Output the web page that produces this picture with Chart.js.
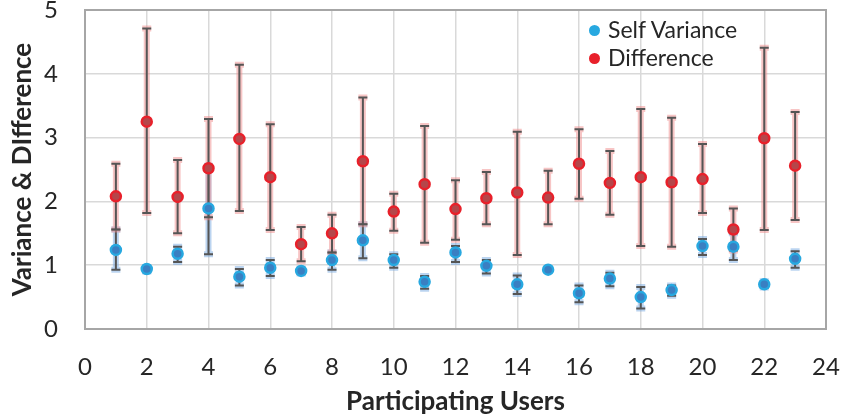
<!DOCTYPE html>
<html>
<head>
<meta charset="utf-8">
<script src="https://cdn.jsdelivr.net/npm/chart.js@4.4.0/dist/chart.umd.min.js"></script>
<style>
    body { margin: 0; background: #fff; }
    #wrap { position: relative; width: 845px; height: 419px; }
    #legend { position: absolute; left: 589px; top: 15px; font-family: Lato, sans-serif; font-size: 23px; color: #262626; }
    #legend div { height: 28px; line-height: 28px; white-space: nowrap; }
    #legend span { display: inline-block; width: 11px; height: 11px; border-radius: 50%; margin-right: 8px; vertical-align: 2px; }
</style>
</head>
<body>
<div id="wrap">
    <canvas id="chart" width="845" height="419"></canvas>
    <div id="legend"></div>
</div>
<script>
const users = [1, 2, 3, 4, 5, 6, 7, 8, 9, 10, 11, 12, 13, 14, 15, 16, 17, 18, 19, 20, 21, 22, 23];

const selfVar  = [1.24, 0.94, 1.18, 1.89, 0.82, 0.96, 0.91, 1.08, 1.39, 1.08, 0.74, 1.20, 0.99, 0.70, 0.93, 0.56, 0.79, 0.50, 0.61, 1.30, 1.29, 0.70, 1.10];
const selfLow  = [0.93, 0.90, 1.05, 1.17, 0.68, 0.83, 0.87, 0.93, 1.11, 0.96, 0.63, 1.05, 0.87, 0.55, 0.93, 0.42, 0.67, 0.32, 0.52, 1.16, 1.08, 0.65, 0.96];
const selfHigh = [1.56, 0.97, 1.29, 2.56, 0.94, 1.08, 0.95, 1.20, 1.64, 1.17, 0.83, 1.30, 1.08, 0.84, 0.93, 0.68, 0.88, 0.66, 0.68, 1.41, 1.50, 0.75, 1.22];

const diff     = [2.08, 3.25, 2.07, 2.52, 2.98, 2.38, 1.33, 1.50, 2.63, 1.84, 2.27, 1.88, 2.05, 2.14, 2.06, 2.59, 2.29, 2.38, 2.30, 2.35, 1.56, 2.99, 2.56];
const diffLow  = [1.56, 1.82, 1.50, 1.75, 1.85, 1.55, 1.06, 1.20, 1.64, 1.54, 1.35, 1.40, 1.64, 1.16, 1.64, 2.04, 1.79, 1.30, 1.29, 1.82, 1.23, 1.55, 1.71];
const diffHigh = [2.59, 4.71, 2.65, 3.29, 4.14, 3.21, 1.60, 1.79, 3.63, 2.12, 3.18, 2.33, 2.46, 3.09, 2.48, 3.13, 2.79, 3.45, 3.31, 2.90, 1.89, 4.41, 3.40];

const xTicks = [0, 2, 4, 6, 8, 10, 12, 14, 16, 18, 20, 22, 24];
const yTicks = [0, 1, 2, 3, 4, 5];

const FONT = "Lato, 'Open Sans', sans-serif";

// error bars go under the points, frame round the plot area
const errorBars = {
    id: 'errorBars',
    beforeDatasetsDraw(chart) {
        const {ctx, chartArea: a, scales: {x, y}} = chart;
        ctx.save();
        ctx.strokeStyle = '#a6a6a6';
        ctx.lineWidth = 2;
        ctx.strokeRect(a.left, a.top, a.right - a.left, a.bottom - a.top);

        chart.data.datasets.forEach(ds => {
            ds.data.forEach((p, i) => {
                const px = x.getPixelForValue(p.x);
                const yl = y.getPixelForValue(ds.errLow[i]);
                const yh = y.getPixelForValue(ds.errHigh[i]);
                const path = () => {
                    ctx.beginPath();
                    ctx.moveTo(px, yl); ctx.lineTo(px, yh);
                    ctx.moveTo(px - 4.5, yl); ctx.lineTo(px + 4.5, yl);
                    ctx.moveTo(px - 4.5, yh); ctx.lineTo(px + 4.5, yh);
                };
                path();
                ctx.strokeStyle = ds.glow;
                ctx.lineWidth = 6;
                ctx.stroke();
                path();
                ctx.strokeStyle = '#555555';
                ctx.lineWidth = 2;
                ctx.stroke();
            });
        });
        ctx.restore();
    }
};

const datasets = [
    {
        label: 'Self Variance',
        data: users.map((u, i) => ({x: u, y: selfVar[i]})),
        errLow: selfLow,
        errHigh: selfHigh,
        backgroundColor: '#3a7fc2',
        borderColor: '#27a8e0',
        glow: 'rgba(120, 170, 225, 0.5)'
    },
    {
        label: 'Difference',
        data: users.map((u, i) => ({x: u, y: diff[i]})),
        errLow: diffLow,
        errHigh: diffHigh,
        backgroundColor: '#b5464a',
        borderColor: '#e8202a',
        glow: 'rgba(240, 140, 140, 0.5)'
    }
];

new Chart(document.getElementById('chart'), {
    type: 'scatter',
    data: {datasets},
    options: {
        responsive: false,
        animation: false,
        layout: {padding: {top: 10, right: 19, left: 0, bottom: 0}},
        elements: {point: {radius: 5, borderWidth: 2.5}},
        plugins: {legend: {display: false}, tooltip: {enabled: false}},
        scales: {
            x: {
                min: 0, max: 24,
                afterFit: s => { s.height = 90; s.paddingLeft = 0; s.paddingRight = 0; },
                afterBuildTicks: s => { s.ticks = xTicks.map(v => ({value: v})); },
                grid: {color: '#d9d9d9', lineWidth: 1.5, drawTicks: false},
                border: {display: false},
                ticks: {padding: 24, color: '#262626', font: {family: FONT, size: 24}},
                title: {display: true, text: 'Participating Users', color: '#262626',
                        padding: {top: 0, bottom: 2}, font: {family: FONT, size: 26, weight: 'bold'}}
            },
            y: {
                min: 0, max: 5,
                afterFit: s => { s.width = 85; s.paddingTop = 0; s.paddingBottom = 0; },
                afterBuildTicks: s => { s.ticks = yTicks.map(v => ({value: v})); },
                grid: {color: '#d9d9d9', lineWidth: 1.5, drawTicks: false},
                border: {display: false},
                ticks: {padding: 27, color: '#262626', font: {family: FONT, size: 24}},
                title: {display: true, text: 'Variance & DIfference', color: '#262626',
                        padding: {top: 7, bottom: 0}, font: {family: FONT, size: 26, weight: 'bold'}}
            }
        }
    },
    plugins: [errorBars]
});

document.getElementById('legend').innerHTML = datasets.map(ds =>
    `<div><span style="background:${ds.borderColor}"></span>${ds.label}</div>`).join('');
</script>
</body>
</html>
